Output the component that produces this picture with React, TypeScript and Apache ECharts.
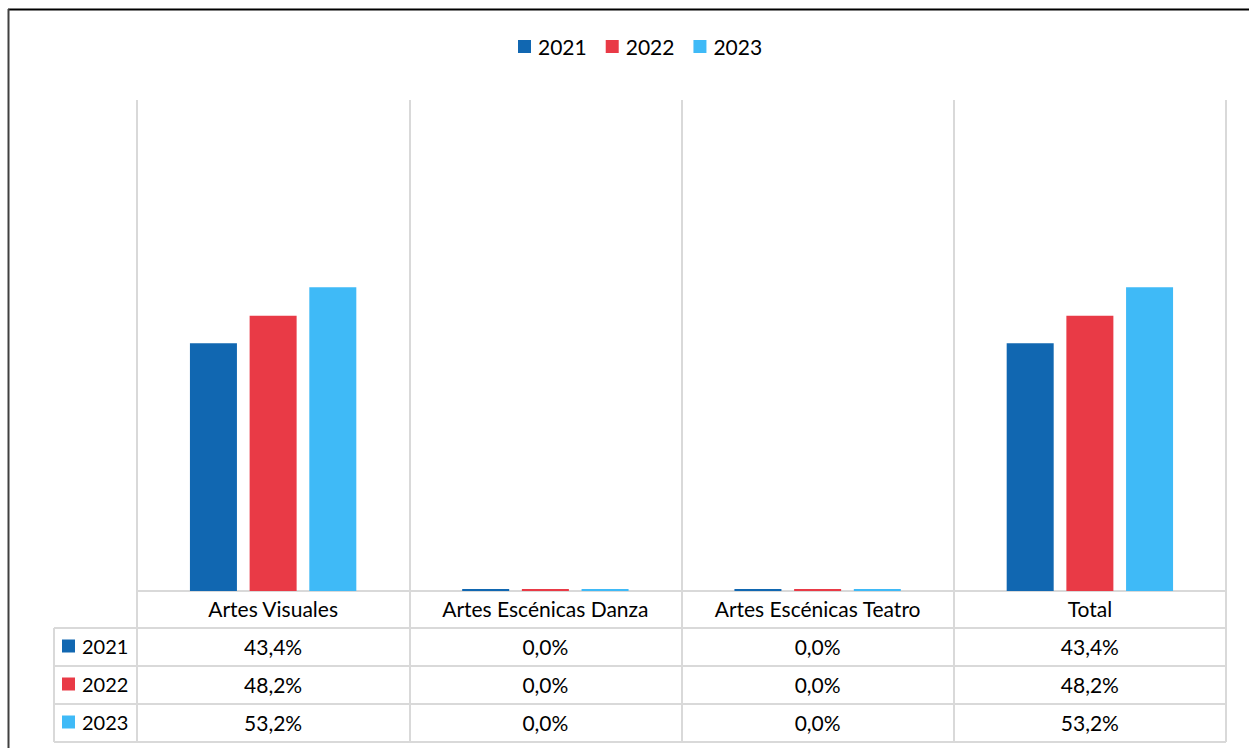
import React, { useEffect, useRef } from "react";
import * as echarts from "echarts";

const categories = ["Artes Visuales", "Artes Escénicas Danza", "Artes Escénicas Teatro", "Total"];
const years = ["2021", "2022", "2023"];
const values2021 = [43.4, 0, 0, 43.4];
const values2022 = [48.2, 0, 0, 48.2];
const values2023 = [53.2, 0, 0, 53.2];
const colors = ["#1167b1", "#e93a46", "#3fbaf7"];

const seriesValues = [values2021, values2022, values2023];
const fmt = (v: number) => v.toFixed(1).replace(".", ",") + "%";

const FONT = "Lato, 'Open Sans', sans-serif";
const GRID_LEFT = 137;
const GRID_RIGHT_X = 1226;
const BASE_Y = 591;
const ROW_H = 38;
const HEADER_BOTTOM = 628;
const TABLE_LEFT = 54;
const GRID_COLOR = "#d9d9d9";

export default function App() {
  const ref = useRef<HTMLDivElement>(null);
  useEffect(() => {
    if (!ref.current) return;
    const chart = echarts.init(ref.current, undefined, { renderer: "svg" });

    const graphics: any[] = [];
    // outer frame (top + left)
    graphics.push({ type: "line", shape: { x1: 8, y1: 9.5, x2: 1249, y2: 9.5 }, style: { stroke: "#000", lineWidth: 2 } });
    graphics.push({ type: "line", shape: { x1: 8.5, y1: 9, x2: 8.5, y2: 748 }, style: { stroke: "#404040", lineWidth: 2 } });
    // table horizontal lines
    for (let i = 0; i < 4; i++) {
      const y = HEADER_BOTTOM + i * ROW_H;
      graphics.push({ type: "line", shape: { x1: TABLE_LEFT, y1: y, x2: GRID_RIGHT_X, y2: y }, style: { stroke: GRID_COLOR, lineWidth: 2 } });
    }
    graphics.push({ type: "line", shape: { x1: TABLE_LEFT, y1: HEADER_BOTTOM, x2: TABLE_LEFT, y2: HEADER_BOTTOM + 3 * ROW_H }, style: { stroke: GRID_COLOR, lineWidth: 2 } });
    // row labels
    years.forEach((yr, i) => {
      const cy = HEADER_BOTTOM + i * ROW_H + ROW_H / 2 - 1;
      graphics.push({ type: "rect", shape: { x: 62, y: cy - 6.5, width: 13, height: 13 }, style: { fill: colors[i] } });
      graphics.push({ type: "text", x: 82, y: cy, style: { text: yr, fill: "#000", font: `20px ${FONT}`, textVerticalAlign: "middle" } });
    });

    chart.setOption({
      animation: false,
      color: colors,
      textStyle: { fontFamily: FONT },
      legend: {
        top: 36,
        left: 518,
        padding: 0,
        icon: "rect",
        itemWidth: 13,
        itemHeight: 13,
        itemGap: 19,
        textStyle: { fontSize: 21, color: "#000", fontFamily: FONT, padding: [0, 0, 0, 2] },
        data: years,
      },
      grid: { left: GRID_LEFT, right: 1249 - GRID_RIGHT_X, top: 100, bottom: 748 - BASE_Y, containLabel: false },
      xAxis: {
        type: "category",
        data: categories,
        axisLine: { show: true, lineStyle: { color: GRID_COLOR, width: 2 } },
        axisTick: { show: true, length: 151, lineStyle: { color: GRID_COLOR, width: 2 } },
        splitLine: { show: true, lineStyle: { color: GRID_COLOR, width: 2 } },
        axisLabel: {
          interval: 0,
          margin: -2,
          formatter: (value: string, index: number) =>
            [`{c|${value}}`, ...seriesValues.map((arr) => `{v|${fmt(arr[index])}}`)].join("\n"),
          rich: {
            c: { fontSize: 21, lineHeight: ROW_H, color: "#000", fontFamily: FONT },
            v: { fontSize: 21, lineHeight: ROW_H, color: "#000", fontFamily: FONT },
          },
        },
      },
      yAxis: { type: "value", min: 0, max: 86, show: false, splitLine: { show: false } },
      graphic: graphics,
      series: years.map((yr, i) => ({
        name: yr,
        type: "bar",
        data: seriesValues[i],
        barWidth: 47,
        barGap: "27%",
        barMinHeight: 2,
        itemStyle: { color: colors[i] },
      })),
    });
    return () => chart.dispose();
  }, []);
  return <div ref={ref} style={{ position: "fixed", left: 0, top: 0, width: 1249, height: 748, background: "#fff" }} />;
}
